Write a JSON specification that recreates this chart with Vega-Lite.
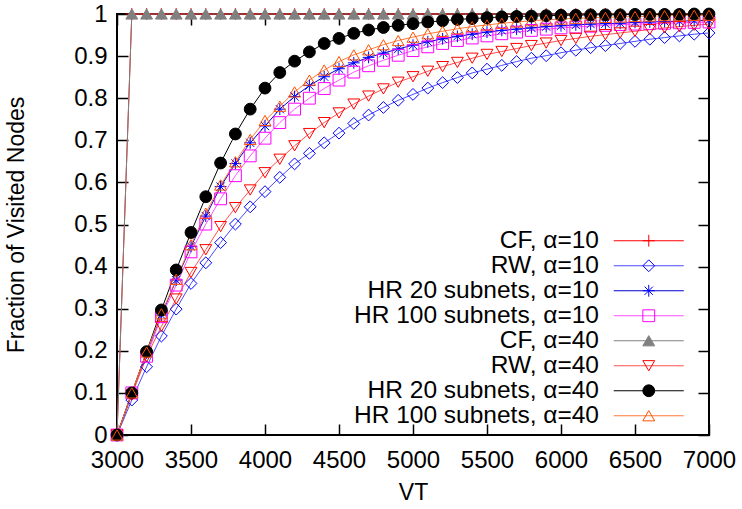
{
  "$schema": "https://vega.github.io/schema/vega-lite/v6.json",
  "width": 592,
  "height": 421,
  "autosize": {"type": "none"},
  "padding": {"left": 117, "top": 14, "right": 33, "bottom": 74},
  "config": {
    "font": "Liberation Sans",
    "view": {"stroke": "#000000", "strokeWidth": 2},
    "axis": {"grid": false, "domain": false, "tickColor": "#000000", "tickWidth": 1.5, "tickSize": -11, "labelColor": "#000000", "labelFontSize": 24, "titleFontSize": 23, "titleFontWeight": "normal", "titleColor": "#000000"},
    "legend": {"orient": "none", "padding": 0, "rowPadding": 0, "labelFontSize": 24.5, "labelColor": "#000000", "labelAlign": "right", "labelOffset": -62, "labelLimit": 400}
  },
  "data": {"values": [
    {"s":"CF, α=10","x":3000,"y":0},{"s":"CF, α=10","x":3100,"y":1},{"s":"CF, α=10","x":3200,"y":1},{"s":"CF, α=10","x":3300,"y":1},{"s":"CF, α=10","x":3400,"y":1},{"s":"CF, α=10","x":3500,"y":1},{"s":"CF, α=10","x":3600,"y":1},{"s":"CF, α=10","x":3700,"y":1},{"s":"CF, α=10","x":3800,"y":1},{"s":"CF, α=10","x":3900,"y":1},{"s":"CF, α=10","x":4000,"y":1},{"s":"CF, α=10","x":4100,"y":1},{"s":"CF, α=10","x":4200,"y":1},{"s":"CF, α=10","x":4300,"y":1},{"s":"CF, α=10","x":4400,"y":1},{"s":"CF, α=10","x":4500,"y":1},{"s":"CF, α=10","x":4600,"y":1},{"s":"CF, α=10","x":4700,"y":1},{"s":"CF, α=10","x":4800,"y":1},{"s":"CF, α=10","x":4900,"y":1},{"s":"CF, α=10","x":5000,"y":1},{"s":"CF, α=10","x":5100,"y":1},{"s":"CF, α=10","x":5200,"y":1},{"s":"CF, α=10","x":5300,"y":1},{"s":"CF, α=10","x":5400,"y":1},{"s":"CF, α=10","x":5500,"y":1},{"s":"CF, α=10","x":5600,"y":1},{"s":"CF, α=10","x":5700,"y":1},{"s":"CF, α=10","x":5800,"y":1},{"s":"CF, α=10","x":5900,"y":1},{"s":"CF, α=10","x":6000,"y":1},{"s":"CF, α=10","x":6100,"y":1},{"s":"CF, α=10","x":6200,"y":1},{"s":"CF, α=10","x":6300,"y":1},{"s":"CF, α=10","x":6400,"y":1},{"s":"CF, α=10","x":6500,"y":1},{"s":"CF, α=10","x":6600,"y":1},{"s":"CF, α=10","x":6700,"y":1},{"s":"CF, α=10","x":6800,"y":1},{"s":"CF, α=10","x":6900,"y":1},{"s":"CF, α=10","x":7000,"y":1},
    {"s":"RW, α=10","x":3000,"y":0},{"s":"RW, α=10","x":3100,"y":0.083},{"s":"RW, α=10","x":3200,"y":0.162},{"s":"RW, α=10","x":3300,"y":0.235},{"s":"RW, α=10","x":3400,"y":0.299},{"s":"RW, α=10","x":3500,"y":0.36},{"s":"RW, α=10","x":3600,"y":0.409},{"s":"RW, α=10","x":3700,"y":0.457},{"s":"RW, α=10","x":3800,"y":0.501},{"s":"RW, α=10","x":3900,"y":0.542},{"s":"RW, α=10","x":4000,"y":0.578},{"s":"RW, α=10","x":4100,"y":0.612},{"s":"RW, α=10","x":4200,"y":0.644},{"s":"RW, α=10","x":4300,"y":0.669},{"s":"RW, α=10","x":4400,"y":0.694},{"s":"RW, α=10","x":4500,"y":0.717},{"s":"RW, α=10","x":4600,"y":0.74},{"s":"RW, α=10","x":4700,"y":0.76},{"s":"RW, α=10","x":4800,"y":0.778},{"s":"RW, α=10","x":4900,"y":0.795},{"s":"RW, α=10","x":5000,"y":0.809},{"s":"RW, α=10","x":5100,"y":0.824},{"s":"RW, α=10","x":5200,"y":0.837},{"s":"RW, α=10","x":5300,"y":0.849},{"s":"RW, α=10","x":5400,"y":0.86},{"s":"RW, α=10","x":5500,"y":0.869},{"s":"RW, α=10","x":5600,"y":0.878},{"s":"RW, α=10","x":5700,"y":0.887},{"s":"RW, α=10","x":5800,"y":0.895},{"s":"RW, α=10","x":5900,"y":0.901},{"s":"RW, α=10","x":6000,"y":0.908},{"s":"RW, α=10","x":6100,"y":0.914},{"s":"RW, α=10","x":6200,"y":0.92},{"s":"RW, α=10","x":6300,"y":0.925},{"s":"RW, α=10","x":6400,"y":0.93},{"s":"RW, α=10","x":6500,"y":0.935},{"s":"RW, α=10","x":6600,"y":0.94},{"s":"RW, α=10","x":6700,"y":0.944},{"s":"RW, α=10","x":6800,"y":0.948},{"s":"RW, α=10","x":6900,"y":0.952},{"s":"RW, α=10","x":7000,"y":0.955},
    {"s":"HR 20 subnets, α=10","x":3000,"y":0},{"s":"HR 20 subnets, α=10","x":3100,"y":0.098},{"s":"HR 20 subnets, α=10","x":3200,"y":0.195},{"s":"HR 20 subnets, α=10","x":3300,"y":0.285},{"s":"HR 20 subnets, α=10","x":3400,"y":0.368},{"s":"HR 20 subnets, α=10","x":3500,"y":0.448},{"s":"HR 20 subnets, α=10","x":3600,"y":0.52},{"s":"HR 20 subnets, α=10","x":3700,"y":0.59},{"s":"HR 20 subnets, α=10","x":3800,"y":0.645},{"s":"HR 20 subnets, α=10","x":3900,"y":0.694},{"s":"HR 20 subnets, α=10","x":4000,"y":0.734},{"s":"HR 20 subnets, α=10","x":4100,"y":0.774},{"s":"HR 20 subnets, α=10","x":4200,"y":0.804},{"s":"HR 20 subnets, α=10","x":4300,"y":0.83},{"s":"HR 20 subnets, α=10","x":4400,"y":0.851},{"s":"HR 20 subnets, α=10","x":4500,"y":0.87},{"s":"HR 20 subnets, α=10","x":4600,"y":0.884},{"s":"HR 20 subnets, α=10","x":4700,"y":0.897},{"s":"HR 20 subnets, α=10","x":4800,"y":0.907},{"s":"HR 20 subnets, α=10","x":4900,"y":0.917},{"s":"HR 20 subnets, α=10","x":5000,"y":0.926},{"s":"HR 20 subnets, α=10","x":5100,"y":0.934},{"s":"HR 20 subnets, α=10","x":5200,"y":0.941},{"s":"HR 20 subnets, α=10","x":5300,"y":0.947},{"s":"HR 20 subnets, α=10","x":5400,"y":0.952},{"s":"HR 20 subnets, α=10","x":5500,"y":0.957},{"s":"HR 20 subnets, α=10","x":5600,"y":0.961},{"s":"HR 20 subnets, α=10","x":5700,"y":0.964},{"s":"HR 20 subnets, α=10","x":5800,"y":0.967},{"s":"HR 20 subnets, α=10","x":5900,"y":0.97},{"s":"HR 20 subnets, α=10","x":6000,"y":0.972},{"s":"HR 20 subnets, α=10","x":6100,"y":0.974},{"s":"HR 20 subnets, α=10","x":6200,"y":0.976},{"s":"HR 20 subnets, α=10","x":6300,"y":0.977},{"s":"HR 20 subnets, α=10","x":6400,"y":0.978},{"s":"HR 20 subnets, α=10","x":6500,"y":0.98},{"s":"HR 20 subnets, α=10","x":6600,"y":0.981},{"s":"HR 20 subnets, α=10","x":6700,"y":0.982},{"s":"HR 20 subnets, α=10","x":6800,"y":0.983},{"s":"HR 20 subnets, α=10","x":6900,"y":0.984},{"s":"HR 20 subnets, α=10","x":7000,"y":0.985},
    {"s":"HR 100 subnets, α=10","x":3000,"y":0},{"s":"HR 100 subnets, α=10","x":3100,"y":0.1},{"s":"HR 100 subnets, α=10","x":3200,"y":0.187},{"s":"HR 100 subnets, α=10","x":3300,"y":0.281},{"s":"HR 100 subnets, α=10","x":3400,"y":0.356},{"s":"HR 100 subnets, α=10","x":3500,"y":0.435},{"s":"HR 100 subnets, α=10","x":3600,"y":0.501},{"s":"HR 100 subnets, α=10","x":3700,"y":0.561},{"s":"HR 100 subnets, α=10","x":3800,"y":0.616},{"s":"HR 100 subnets, α=10","x":3900,"y":0.663},{"s":"HR 100 subnets, α=10","x":4000,"y":0.705},{"s":"HR 100 subnets, α=10","x":4100,"y":0.742},{"s":"HR 100 subnets, α=10","x":4200,"y":0.774},{"s":"HR 100 subnets, α=10","x":4300,"y":0.8},{"s":"HR 100 subnets, α=10","x":4400,"y":0.823},{"s":"HR 100 subnets, α=10","x":4500,"y":0.843},{"s":"HR 100 subnets, α=10","x":4600,"y":0.862},{"s":"HR 100 subnets, α=10","x":4700,"y":0.877},{"s":"HR 100 subnets, α=10","x":4800,"y":0.89},{"s":"HR 100 subnets, α=10","x":4900,"y":0.902},{"s":"HR 100 subnets, α=10","x":5000,"y":0.913},{"s":"HR 100 subnets, α=10","x":5100,"y":0.922},{"s":"HR 100 subnets, α=10","x":5200,"y":0.93},{"s":"HR 100 subnets, α=10","x":5300,"y":0.937},{"s":"HR 100 subnets, α=10","x":5400,"y":0.943},{"s":"HR 100 subnets, α=10","x":5500,"y":0.948},{"s":"HR 100 subnets, α=10","x":5600,"y":0.953},{"s":"HR 100 subnets, α=10","x":5700,"y":0.957},{"s":"HR 100 subnets, α=10","x":5800,"y":0.961},{"s":"HR 100 subnets, α=10","x":5900,"y":0.964},{"s":"HR 100 subnets, α=10","x":6000,"y":0.967},{"s":"HR 100 subnets, α=10","x":6100,"y":0.969},{"s":"HR 100 subnets, α=10","x":6200,"y":0.971},{"s":"HR 100 subnets, α=10","x":6300,"y":0.973},{"s":"HR 100 subnets, α=10","x":6400,"y":0.975},{"s":"HR 100 subnets, α=10","x":6500,"y":0.976},{"s":"HR 100 subnets, α=10","x":6600,"y":0.977},{"s":"HR 100 subnets, α=10","x":6700,"y":0.978},{"s":"HR 100 subnets, α=10","x":6800,"y":0.979},{"s":"HR 100 subnets, α=10","x":6900,"y":0.98},{"s":"HR 100 subnets, α=10","x":7000,"y":0.981},
    {"s":"CF, α=40","x":3000,"y":0},{"s":"CF, α=40","x":3100,"y":1},{"s":"CF, α=40","x":3200,"y":1},{"s":"CF, α=40","x":3300,"y":1},{"s":"CF, α=40","x":3400,"y":1},{"s":"CF, α=40","x":3500,"y":1},{"s":"CF, α=40","x":3600,"y":1},{"s":"CF, α=40","x":3700,"y":1},{"s":"CF, α=40","x":3800,"y":1},{"s":"CF, α=40","x":3900,"y":1},{"s":"CF, α=40","x":4000,"y":1},{"s":"CF, α=40","x":4100,"y":1},{"s":"CF, α=40","x":4200,"y":1},{"s":"CF, α=40","x":4300,"y":1},{"s":"CF, α=40","x":4400,"y":1},{"s":"CF, α=40","x":4500,"y":1},{"s":"CF, α=40","x":4600,"y":1},{"s":"CF, α=40","x":4700,"y":1},{"s":"CF, α=40","x":4800,"y":1},{"s":"CF, α=40","x":4900,"y":1},{"s":"CF, α=40","x":5000,"y":1},{"s":"CF, α=40","x":5100,"y":1},{"s":"CF, α=40","x":5200,"y":1},{"s":"CF, α=40","x":5300,"y":1},{"s":"CF, α=40","x":5400,"y":1},{"s":"CF, α=40","x":5500,"y":1},{"s":"CF, α=40","x":5600,"y":1},{"s":"CF, α=40","x":5700,"y":1},{"s":"CF, α=40","x":5800,"y":1},{"s":"CF, α=40","x":5900,"y":1},{"s":"CF, α=40","x":6000,"y":1},{"s":"CF, α=40","x":6100,"y":1},{"s":"CF, α=40","x":6200,"y":1},{"s":"CF, α=40","x":6300,"y":1},{"s":"CF, α=40","x":6400,"y":1},{"s":"CF, α=40","x":6500,"y":1},{"s":"CF, α=40","x":6600,"y":1},{"s":"CF, α=40","x":6700,"y":1},{"s":"CF, α=40","x":6800,"y":1},{"s":"CF, α=40","x":6900,"y":1},{"s":"CF, α=40","x":7000,"y":1},
    {"s":"RW, α=40","x":3000,"y":0},{"s":"RW, α=40","x":3100,"y":0.095},{"s":"RW, α=40","x":3200,"y":0.186},{"s":"RW, α=40","x":3300,"y":0.258},{"s":"RW, α=40","x":3400,"y":0.323},{"s":"RW, α=40","x":3500,"y":0.386},{"s":"RW, α=40","x":3600,"y":0.44},{"s":"RW, α=40","x":3700,"y":0.495},{"s":"RW, α=40","x":3800,"y":0.54},{"s":"RW, α=40","x":3900,"y":0.582},{"s":"RW, α=40","x":4000,"y":0.623},{"s":"RW, α=40","x":4100,"y":0.655},{"s":"RW, α=40","x":4200,"y":0.687},{"s":"RW, α=40","x":4300,"y":0.716},{"s":"RW, α=40","x":4400,"y":0.742},{"s":"RW, α=40","x":4500,"y":0.765},{"s":"RW, α=40","x":4600,"y":0.786},{"s":"RW, α=40","x":4700,"y":0.805},{"s":"RW, α=40","x":4800,"y":0.822},{"s":"RW, α=40","x":4900,"y":0.838},{"s":"RW, α=40","x":5000,"y":0.851},{"s":"RW, α=40","x":5100,"y":0.864},{"s":"RW, α=40","x":5200,"y":0.875},{"s":"RW, α=40","x":5300,"y":0.885},{"s":"RW, α=40","x":5400,"y":0.895},{"s":"RW, α=40","x":5500,"y":0.904},{"s":"RW, α=40","x":5600,"y":0.911},{"s":"RW, α=40","x":5700,"y":0.918},{"s":"RW, α=40","x":5800,"y":0.925},{"s":"RW, α=40","x":5900,"y":0.931},{"s":"RW, α=40","x":6000,"y":0.937},{"s":"RW, α=40","x":6100,"y":0.942},{"s":"RW, α=40","x":6200,"y":0.947},{"s":"RW, α=40","x":6300,"y":0.951},{"s":"RW, α=40","x":6400,"y":0.955},{"s":"RW, α=40","x":6500,"y":0.959},{"s":"RW, α=40","x":6600,"y":0.963},{"s":"RW, α=40","x":6700,"y":0.967},{"s":"RW, α=40","x":6800,"y":0.97},{"s":"RW, α=40","x":6900,"y":0.973},{"s":"RW, α=40","x":7000,"y":0.976},
    {"s":"HR 20 subnets, α=40","x":3000,"y":0},{"s":"HR 20 subnets, α=40","x":3100,"y":0.1},{"s":"HR 20 subnets, α=40","x":3200,"y":0.198},{"s":"HR 20 subnets, α=40","x":3300,"y":0.297},{"s":"HR 20 subnets, α=40","x":3400,"y":0.392},{"s":"HR 20 subnets, α=40","x":3500,"y":0.481},{"s":"HR 20 subnets, α=40","x":3600,"y":0.566},{"s":"HR 20 subnets, α=40","x":3700,"y":0.646},{"s":"HR 20 subnets, α=40","x":3800,"y":0.715},{"s":"HR 20 subnets, α=40","x":3900,"y":0.774},{"s":"HR 20 subnets, α=40","x":4000,"y":0.824},{"s":"HR 20 subnets, α=40","x":4100,"y":0.861},{"s":"HR 20 subnets, α=40","x":4200,"y":0.888},{"s":"HR 20 subnets, α=40","x":4300,"y":0.91},{"s":"HR 20 subnets, α=40","x":4400,"y":0.93},{"s":"HR 20 subnets, α=40","x":4500,"y":0.942},{"s":"HR 20 subnets, α=40","x":4600,"y":0.954},{"s":"HR 20 subnets, α=40","x":4700,"y":0.962},{"s":"HR 20 subnets, α=40","x":4800,"y":0.968},{"s":"HR 20 subnets, α=40","x":4900,"y":0.973},{"s":"HR 20 subnets, α=40","x":5000,"y":0.977},{"s":"HR 20 subnets, α=40","x":5100,"y":0.981},{"s":"HR 20 subnets, α=40","x":5200,"y":0.984},{"s":"HR 20 subnets, α=40","x":5300,"y":0.987},{"s":"HR 20 subnets, α=40","x":5400,"y":0.989},{"s":"HR 20 subnets, α=40","x":5500,"y":0.991},{"s":"HR 20 subnets, α=40","x":5600,"y":0.993},{"s":"HR 20 subnets, α=40","x":5700,"y":0.994},{"s":"HR 20 subnets, α=40","x":5800,"y":0.995},{"s":"HR 20 subnets, α=40","x":5900,"y":0.996},{"s":"HR 20 subnets, α=40","x":6000,"y":0.997},{"s":"HR 20 subnets, α=40","x":6100,"y":0.997},{"s":"HR 20 subnets, α=40","x":6200,"y":0.998},{"s":"HR 20 subnets, α=40","x":6300,"y":0.998},{"s":"HR 20 subnets, α=40","x":6400,"y":0.998},{"s":"HR 20 subnets, α=40","x":6500,"y":0.999},{"s":"HR 20 subnets, α=40","x":6600,"y":0.999},{"s":"HR 20 subnets, α=40","x":6700,"y":0.999},{"s":"HR 20 subnets, α=40","x":6800,"y":0.999},{"s":"HR 20 subnets, α=40","x":6900,"y":1},{"s":"HR 20 subnets, α=40","x":7000,"y":1},
    {"s":"HR 100 subnets, α=40","x":3000,"y":0},{"s":"HR 100 subnets, α=40","x":3100,"y":0.1},{"s":"HR 100 subnets, α=40","x":3200,"y":0.197},{"s":"HR 100 subnets, α=40","x":3300,"y":0.288},{"s":"HR 100 subnets, α=40","x":3400,"y":0.37},{"s":"HR 100 subnets, α=40","x":3500,"y":0.452},{"s":"HR 100 subnets, α=40","x":3600,"y":0.527},{"s":"HR 100 subnets, α=40","x":3700,"y":0.594},{"s":"HR 100 subnets, α=40","x":3800,"y":0.649},{"s":"HR 100 subnets, α=40","x":3900,"y":0.702},{"s":"HR 100 subnets, α=40","x":4000,"y":0.747},{"s":"HR 100 subnets, α=40","x":4100,"y":0.781},{"s":"HR 100 subnets, α=40","x":4200,"y":0.815},{"s":"HR 100 subnets, α=40","x":4300,"y":0.843},{"s":"HR 100 subnets, α=40","x":4400,"y":0.867},{"s":"HR 100 subnets, α=40","x":4500,"y":0.887},{"s":"HR 100 subnets, α=40","x":4600,"y":0.903},{"s":"HR 100 subnets, α=40","x":4700,"y":0.915},{"s":"HR 100 subnets, α=40","x":4800,"y":0.927},{"s":"HR 100 subnets, α=40","x":4900,"y":0.937},{"s":"HR 100 subnets, α=40","x":5000,"y":0.945},{"s":"HR 100 subnets, α=40","x":5100,"y":0.953},{"s":"HR 100 subnets, α=40","x":5200,"y":0.959},{"s":"HR 100 subnets, α=40","x":5300,"y":0.965},{"s":"HR 100 subnets, α=40","x":5400,"y":0.97},{"s":"HR 100 subnets, α=40","x":5500,"y":0.974},{"s":"HR 100 subnets, α=40","x":5600,"y":0.978},{"s":"HR 100 subnets, α=40","x":5700,"y":0.981},{"s":"HR 100 subnets, α=40","x":5800,"y":0.984},{"s":"HR 100 subnets, α=40","x":5900,"y":0.986},{"s":"HR 100 subnets, α=40","x":6000,"y":0.988},{"s":"HR 100 subnets, α=40","x":6100,"y":0.99},{"s":"HR 100 subnets, α=40","x":6200,"y":0.991},{"s":"HR 100 subnets, α=40","x":6300,"y":0.992},{"s":"HR 100 subnets, α=40","x":6400,"y":0.993},{"s":"HR 100 subnets, α=40","x":6500,"y":0.994},{"s":"HR 100 subnets, α=40","x":6600,"y":0.995},{"s":"HR 100 subnets, α=40","x":6700,"y":0.996},{"s":"HR 100 subnets, α=40","x":6800,"y":0.996},{"s":"HR 100 subnets, α=40","x":6900,"y":0.997},{"s":"HR 100 subnets, α=40","x":7000,"y":0.997}
  ]},
  "layer": [
    {
      "mark": {"type": "line", "strokeWidth": 1, "clip": false},
      "encoding": {
        "x": {"field": "x", "type": "quantitative", "scale": {"domain": [3000, 7000], "nice": false, "zero": false},
              "axis": {"orient": "bottom", "title": "VT", "values": [3000,3500,4000,4500,5000,5500,6000,6500,7000], "format": "d", "labelPadding": 24, "titlePadding": 9, "labelFlush": false}},
        "y": {"field": "y", "type": "quantitative", "scale": {"domain": [0, 1], "nice": false},
              "axis": {"orient": "left", "title": "Fraction of Visited Nodes", "values": [0,0.1,0.2,0.3,0.4,0.5,0.6,0.7,0.8,0.9,1], "format": "~g", "labelPadding": 21, "titlePadding": 45, "labelFlush": false}},
        "color": {"field": "s", "type": "nominal",
          "scale": {"domain": ["CF, α=10","RW, α=10","HR 20 subnets, α=10","HR 100 subnets, α=10","CF, α=40","RW, α=40","HR 20 subnets, α=40","HR 100 subnets, α=40","none"],
                    "range": ["#ff0000","#4a4aff","#0000d0","#ff50ff","#808080","#ff5050","#000000","#ff7a3a","#ffffff"]},
          "legend": {"title": null, "values": ["CF, α=10","RW, α=10","HR 20 subnets, α=10","HR 100 subnets, α=10","CF, α=40","RW, α=40","HR 20 subnets, α=40","HR 100 subnets, α=40"], "legendX": 519.5, "legendY": 214.5, "symbolType": "M-5,0H5", "symbolSize": 196, "symbolStrokeWidth": 1.2}},
        "detail": {"field": "s"}
      }
    },
    {
      "mark": {"type": "point", "strokeWidth": 1, "opacity": 1, "size": 140, "clip": false},
      "encoding": {
        "x": {"field": "x", "type": "quantitative", "axis": {"orient": "top", "title": null, "labels": false, "values": [3000,3500,4000,4500,5000,5500,6000,6500,7000]}},
        "y": {"field": "y", "type": "quantitative", "axis": {"orient": "right", "title": null, "labels": false, "values": [0,0.1,0.2,0.3,0.4,0.5,0.6,0.7,0.8,0.9,1]}},
        "shape": {"field": "s", "type": "nominal",
          "scale": {"domain": ["CF, α=10","RW, α=10","HR 20 subnets, α=10","HR 100 subnets, α=10","CF, α=40","RW, α=40","HR 20 subnets, α=40","HR 100 subnets, α=40"],
                    "range": ["M-1,0H1M0,-1V1","diamond","M-1,0H1M0,-1V1M-0.7,-0.7L0.7,0.7M-0.7,0.7L0.7,-0.7","square","triangle-up","triangle-down","circle","triangle-up"]},
          "legend": {"title": null, "legendX": 519.5, "legendY": 214.5, "symbolSize": 140, "labelOpacity": 0, "symbolStrokeWidth": 1}},
        "stroke": {"field": "s", "type": "nominal",
          "scale": {"domain": ["CF, α=10","RW, α=10","HR 20 subnets, α=10","HR 100 subnets, α=10","CF, α=40","RW, α=40","HR 20 subnets, α=40","HR 100 subnets, α=40"],
                    "range": ["#ff0000","#0000ff","#0000ff","#ff00ff","#808080","#ff0000","#000000","#ff5000"]},
          "legend": {"title": null, "legendX": 519.5, "legendY": 214.5, "symbolSize": 140, "labelOpacity": 0, "symbolStrokeWidth": 1}},
        "fill": {"field": "s", "type": "nominal",
          "scale": {"domain": ["CF, α=10","RW, α=10","HR 20 subnets, α=10","HR 100 subnets, α=10","CF, α=40","RW, α=40","HR 20 subnets, α=40","HR 100 subnets, α=40"],
                    "range": ["transparent","transparent","transparent","transparent","#808080","transparent","#000000","transparent"]},
          "legend": {"title": null, "legendX": 519.5, "legendY": 214.5, "symbolSize": 140, "labelOpacity": 0, "symbolStrokeWidth": 1}}
      }
    }
  ],
  "resolve": {"axis": {"x": "independent", "y": "independent"}}
}
